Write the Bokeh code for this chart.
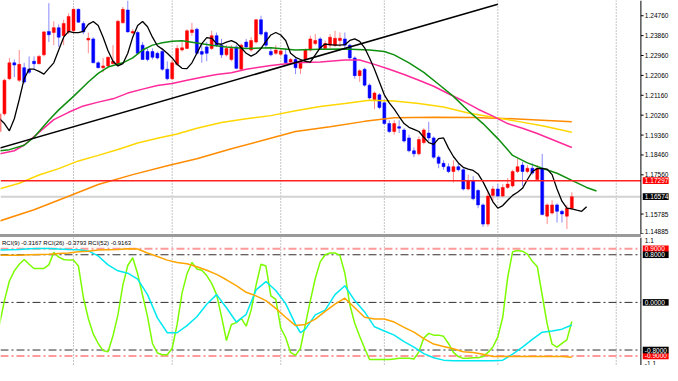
from bokeh.plotting import figure
from bokeh.layouts import column
from bokeh.models import Range1d, Span, ColumnDataSource, Div
from bokeh.core.properties import value
from bokeh.embed import file_html
from bokeh.resources import INLINE

# ---------------- data ----------------
opens = [1.1952, 1.2032, 1.2191, 1.2263, 1.2184, 1.2241, 1.2234, 1.2270, 1.2259, 1.2299,
         1.2405, 1.2400, 1.2422, 1.2386, 1.2403, 1.2408, 1.2505, 1.2441, 1.2366, 1.2371,
         1.2263, 1.2241, 1.2249, 1.2259, 1.2256, 1.2444, 1.2502, 1.2398, 1.2400, 1.2343,
         1.2314, 1.2314, 1.2306, 1.2314, 1.2234, 1.2191, 1.2256, 1.2321, 1.2328, 1.2400,
         1.2415, 1.2314, 1.2335, 1.2328, 1.2386, 1.2343, 1.2299, 1.2278, 1.2335, 1.2234,
         1.2357, 1.2321, 1.2357, 1.2458, 1.2400, 1.2314, 1.2306, 1.2302, 1.2299, 1.2267,
         1.2278, 1.2238, 1.2278, 1.2321, 1.2350, 1.2371, 1.2328, 1.2343, 1.2343, 1.2364,
         1.2371, 1.2343, 1.2285, 1.2205, 1.2234, 1.2162, 1.2097, 1.2118, 1.2082, 1.1988,
         1.1952, 1.1974, 1.1959, 1.1923, 1.1865, 1.1851, 1.1902, 1.1945, 1.1923, 1.1836,
         1.1808, 1.1793, 1.1771, 1.1793, 1.1779, 1.1692, 1.1728, 1.1685, 1.1620, 1.1533,
         1.1663, 1.1692, 1.1660, 1.1699, 1.1706, 1.1771, 1.1800, 1.1771, 1.1786, 1.1735,
         1.1786, 1.1569, 1.1583, 1.1620, 1.1591, 1.1569, 1.1605]
highs = [1.2039, 1.2191, 1.2285, 1.2278, 1.2321, 1.2263, 1.2292, 1.2292, 1.2299, 1.2408,
         1.2533, 1.2451, 1.2437, 1.2458, 1.2487, 1.2509, 1.2509, 1.2451, 1.2400, 1.2379,
         1.2270, 1.2285, 1.2292, 1.2343, 1.2458, 1.2516, 1.2545, 1.2415, 1.2408, 1.2357,
         1.2328, 1.2328, 1.2314, 1.2328, 1.2270, 1.2278, 1.2343, 1.2357, 1.2415, 1.2444,
         1.2422, 1.2343, 1.2357, 1.2408, 1.2400, 1.2371, 1.2343, 1.2343, 1.2343, 1.2350,
         1.2371, 1.2379, 1.2461, 1.2476, 1.2408, 1.2328, 1.2343, 1.2328, 1.2328, 1.2285,
         1.2288, 1.2278, 1.2328, 1.2386, 1.2393, 1.2379, 1.2364, 1.2393, 1.2408, 1.2400,
         1.2400, 1.2350, 1.2292, 1.2234, 1.2241, 1.2169, 1.2133, 1.2126, 1.2097, 1.2003,
         1.2003, 1.2003, 1.1967, 1.1938, 1.1880, 1.1930, 1.1967, 1.1996, 1.1930, 1.1844,
         1.1822, 1.1808, 1.1822, 1.1808, 1.1786, 1.1757, 1.1750, 1.1692, 1.1627, 1.1677,
         1.1706, 1.1714, 1.1714, 1.1742, 1.1779, 1.1829, 1.1815, 1.1800, 1.1808, 1.1800,
         1.1851, 1.1627, 1.1641, 1.1627, 1.1598, 1.1620, 1.1677]
lows = [1.1945, 1.2024, 1.2184, 1.2198, 1.2176, 1.2169, 1.2212, 1.2234, 1.2256, 1.2292,
        1.2357, 1.2343, 1.2335, 1.2343, 1.2393, 1.2400, 1.2444, 1.2393, 1.2306, 1.2263,
        1.2238, 1.2220, 1.2241, 1.2256, 1.2249, 1.2441, 1.2400, 1.2393, 1.2299, 1.2278,
        1.2270, 1.2278, 1.2278, 1.2227, 1.2184, 1.2186, 1.2249, 1.2314, 1.2325, 1.2386,
        1.2299, 1.2263, 1.2270, 1.2321, 1.2335, 1.2285, 1.2292, 1.2270, 1.2234, 1.2230,
        1.2328, 1.2314, 1.2350, 1.2386, 1.2328, 1.2292, 1.2299, 1.2292, 1.2259, 1.2256,
        1.2212, 1.2212, 1.2270, 1.2314, 1.2343, 1.2321, 1.2321, 1.2328, 1.2335, 1.2335,
        1.2328, 1.2278, 1.2191, 1.2176, 1.2155, 1.2097, 1.2053, 1.2053, 1.1981, 1.1945,
        1.1938, 1.1945, 1.1902, 1.1858, 1.1836, 1.1844, 1.1894, 1.1909, 1.1829, 1.1786,
        1.1779, 1.1764, 1.1721, 1.1771, 1.1685, 1.1685, 1.1641, 1.1605, 1.1521, 1.1521,
        1.1634, 1.1656, 1.1656, 1.1692, 1.1699, 1.1764, 1.1706, 1.1764, 1.1757, 1.1728,
        1.1573, 1.1533, 1.1576, 1.1540, 1.1540, 1.1511, 1.1598]
closes = [1.2032, 1.2184, 1.2263, 1.2253, 1.2256, 1.2176, 1.2220, 1.2259, 1.2292, 1.2403,
          1.2390, 1.2422, 1.2379, 1.2441, 1.2473, 1.2505, 1.2447, 1.2403, 1.2374, 1.2263,
          1.2241, 1.2249, 1.2288, 1.2270, 1.2451, 1.2505, 1.2403, 1.2405, 1.2306, 1.2278,
          1.2278, 1.2288, 1.2285, 1.2234, 1.2191, 1.2263, 1.2328, 1.2331, 1.2408, 1.2412,
          1.2306, 1.2302, 1.2306, 1.2386, 1.2343, 1.2299, 1.2328, 1.2328, 1.2238, 1.2343,
          1.2335, 1.2364, 1.2458, 1.2393, 1.2343, 1.2299, 1.2321, 1.2317, 1.2263, 1.2278,
          1.2241, 1.2270, 1.2321, 1.2371, 1.2364, 1.2328, 1.2350, 1.2379, 1.2374, 1.2374,
          1.2343, 1.2285, 1.2205, 1.2227, 1.2162, 1.2104, 1.2126, 1.2061, 1.1988, 1.1952,
          1.1988, 1.1967, 1.1909, 1.1865, 1.1851, 1.1916, 1.1959, 1.1923, 1.1836, 1.1808,
          1.1793, 1.1771, 1.1793, 1.1779, 1.1692, 1.1728, 1.1648, 1.1620, 1.1533, 1.1660,
          1.1692, 1.1660, 1.1699, 1.1714, 1.1771, 1.1793, 1.1771, 1.1786, 1.1764, 1.1786,
          1.1576, 1.1620, 1.1620, 1.1591, 1.1579, 1.1605, 1.1657]

ma_black = [1.2010, 1.1988, 1.1955, 1.2010, 1.2097, 1.2191, 1.2234, 1.2234, 1.2224, 1.2212,
            1.2238, 1.2263, 1.2321, 1.2379, 1.2405, 1.2400, 1.2400, 1.2405, 1.2437, 1.2450,
            1.2432, 1.2379, 1.2318, 1.2270, 1.2249, 1.2259, 1.2306, 1.2379, 1.2432, 1.2450,
            1.2426, 1.2379, 1.2340, 1.2325, 1.2306, 1.2285, 1.2256, 1.2238, 1.2237, 1.2263,
            1.2306, 1.2350, 1.2377, 1.2374, 1.2350, 1.2347, 1.2357, 1.2363, 1.2353, 1.2331,
            1.2306, 1.2293, 1.2305, 1.2328, 1.2360, 1.2389, 1.2400, 1.2389, 1.2364, 1.2306,
            1.2288, 1.2278, 1.2270, 1.2266, 1.2299, 1.2331, 1.2348, 1.2345, 1.2343, 1.2343,
            1.2345, 1.2364, 1.2371, 1.2360, 1.2331, 1.2285, 1.2234, 1.2176, 1.2118, 1.2082,
            1.2053, 1.2020, 1.1988, 1.1971, 1.1962, 1.1952, 1.1926, 1.1902, 1.1894, 1.1920,
            1.1923, 1.1877, 1.1839, 1.1810, 1.1790, 1.1782, 1.1776, 1.1760, 1.1724, 1.1680,
            1.1634, 1.1605, 1.1617, 1.1641, 1.1663, 1.1677, 1.1695, 1.1735, 1.1771, 1.1784,
            1.1784, 1.1782, 1.1757, 1.1692, 1.1637, 1.1605, 1.1602, 1.1596, 1.1591, 1.1612]

ma_green_x = [0, 2, 5, 7, 10, 12, 15, 18, 20, 22, 25, 27, 29, 31, 33, 35, 37, 40, 43, 46,
              50, 55, 60, 65, 70, 75, 78, 80, 83, 86, 89, 92, 95, 98, 101, 104, 107, 110,
              113, 116, 119, 121]
ma_green = [1.1865, 1.1870, 1.1890, 1.1926, 1.2003, 1.2050, 1.2111, 1.2176, 1.2215, 1.2244,
            1.2263, 1.2285, 1.2321, 1.2343, 1.2354, 1.2361, 1.2363, 1.2353, 1.2343, 1.2335,
            1.2328, 1.2331, 1.2321, 1.2324, 1.2325, 1.2321, 1.2314, 1.2299, 1.2263, 1.2220,
            1.2166, 1.2111, 1.2046, 1.1988, 1.1920, 1.1844, 1.1810, 1.1786, 1.1763, 1.1731,
            1.1699, 1.1683]

ma_pink_x = [0, 3, 5, 8, 11, 14, 17, 20, 23, 26, 29, 32, 35, 38, 41, 44, 47, 50, 55, 60,
             65, 70, 73, 76, 79, 82, 85, 88, 91, 94, 97, 100, 103, 106, 109, 112, 116]
ma_pink = [1.1851, 1.1865, 1.1891, 1.1948, 1.2006, 1.2039, 1.2068, 1.2085, 1.2100, 1.2126,
           1.2144, 1.2160, 1.2169, 1.2184, 1.2198, 1.2210, 1.2218, 1.2234, 1.2251, 1.2263,
           1.2267, 1.2276, 1.2276, 1.2256, 1.2234, 1.2210, 1.2184, 1.2157, 1.2123, 1.2090,
           1.2053, 1.2022, 1.1988, 1.1967, 1.1943, 1.1916, 1.1880]

ma_yellow_x = [0, 4, 8, 12, 16, 20, 24, 28, 32, 36, 40, 45, 50, 55, 60, 65, 70, 75, 80, 85,
               90, 95, 100, 105, 110, 116]
ma_yellow = [1.1692, 1.1718, 1.1755, 1.1784, 1.1819, 1.1844, 1.1871, 1.1900, 1.1922, 1.1941,
             1.1967, 1.1993, 1.2010, 1.2024, 1.2046, 1.2065, 1.2079, 1.2094, 1.2090, 1.2079,
             1.2063, 1.2036, 1.2017, 1.1998, 1.1978, 1.1949]

ma_orange_x = [0, 7, 14, 20, 27, 34, 40, 47, 54, 60, 67, 74, 80, 88, 96, 104, 110, 116]
ma_orange = [1.1547, 1.1598, 1.1659, 1.1712, 1.1757, 1.1797, 1.1829, 1.1874, 1.1916, 1.1952,
             1.1974, 1.1998, 1.2014, 1.2017, 1.2016, 1.2010, 1.2003, 1.1996]

trend_x = [0, 101]
trend_y = [1.1877, 1.2528]

month_starts = [15, 35, 57, 78, 101, 125]
level_price = 1.17297
last_price = 1.16574
price_ticks = [1.14885, 1.15785, 1.17560, 1.18460, 1.19360, 1.20260, 1.21160,
               1.22060, 1.22960, 1.23860, 1.24760]

rci9 = [-0.37, 0.03, 0.36, 0.53, 0.64, 0.72, 0.64, 0.57, 0.57, 0.57,
        0.63, 0.84, 0.76, 0.72, 0.71, 0.71, 0.61, 0.08, -0.27, -0.53,
        -0.69, -0.81, -0.83, -0.56, -0.21, 0.29, 0.62, 0.75, 0.48, 0.12,
        -0.24, -0.69, -0.85, -0.88, -0.88, -0.77, -0.37, 0.16, 0.48, 0.67,
        0.56, 0.54, 0.45, 0.32, 0.13, -0.24, -0.64, -0.37, -0.34, -0.27,
        -0.40, -0.13, 0.29, 0.64, 0.61, 0.11, 0.05, -0.43, -0.59, -0.84,
        -0.89, -0.77, -0.37, 0.03, 0.40, 0.68, 0.80, 0.83, 0.83, 0.79,
        0.49, -0.04, -0.35, -0.57, -0.77, -0.96, -0.96, -0.96, -0.96, -0.96,
        -0.95, -0.94, -0.94, -0.94, -0.95, -0.83, -0.60, -0.52, -0.55, -0.55,
        -0.57, -0.69, -0.84, -0.91, -0.94, -0.94, -0.93, -0.93, -0.91, -0.84,
        -0.75, -0.58, -0.25, 0.42, 0.85, 0.87, 0.86, 0.81, 0.69, 0.60,
        0.12, -0.36, -0.70, -0.75, -0.69, -0.63, -0.32]

rci26_x = [0, 2, 4, 6, 8, 10, 12, 14, 16, 18, 20, 22, 24, 26, 28, 30, 32, 34, 36, 38,
           40, 42, 44, 46, 48, 50, 52, 54, 56, 58, 60, 61, 62, 64, 66, 68, 70, 72, 74, 76,
           78, 80, 82, 84, 86, 88, 90, 92, 94, 96, 98, 100, 102, 104, 106, 108, 110, 112,
           114, 116]
rci26 = [0.88, 0.885, 0.89, 0.90, 0.907, 0.907, 0.896, 0.89, 0.885, 0.864,
         0.78, 0.63, 0.53, 0.49, 0.39, 0.13, -0.26, -0.51, -0.51, -0.39,
         -0.24, -0.03, 0.13, -0.09, -0.33, -0.20, 0.21, 0.35, 0.20, -0.02,
         -0.37, -0.51, -0.45, -0.21, -0.13, 0.13, 0.28, 0.03, -0.16, -0.41,
         -0.48, -0.55, -0.66, -0.75, -0.86, -0.93, -0.97, -0.98, -0.98, -0.98,
         -0.98, -0.98, -0.97, -0.87, -0.75, -0.62, -0.50, -0.48, -0.45, -0.38]

rci52_x = list(range(0, 117, 2))
rci52 = [0.79, 0.79, 0.79, 0.80, 0.805, 0.81, 0.82, 0.83, 0.85, 0.86,
         0.88, 0.885, 0.89, 0.90, 0.896, 0.83, 0.77, 0.71, 0.67, 0.65,
         0.60, 0.54, 0.47, 0.38, 0.28, 0.17, 0.11, 0.03, -0.10, -0.25,
         -0.39, -0.37, -0.28, -0.15, -0.03, 0.07, -0.09, -0.25, -0.28, -0.28,
         -0.33, -0.42, -0.50, -0.61, -0.70, -0.74, -0.78, -0.83, -0.84, -0.87,
         -0.91, -0.91, -0.91, -0.91, -0.91, -0.91, -0.91, -0.91, -0.92]

rci_outer_levels = [0.9, -0.9]
rci_inner_levels = [0.8, 0.0, -0.8]
rci_scale_labels = ["1.1", "-1.1"]
rci_title = "RCI(9) -0.3167  RCI(26) -0.3793  RCI(52) -0.9163"

# ---------------- layout / styling constants ----------------
FONT = value("Liberation Sans")
FS = "6.5px"
FS_TITLE = "6px"
W = 670            # whole figure width (frame covers the price-scale column too)
BORDER_X = 130     # bar position of the chart's right border
X_END = 136.0      # right end of the scale column (in bar units)
TICK_X1 = 130.55
LABEL_X = 130.5
BOX_X = 133.0
BOX_W = 5.25
x_range = Range1d(0.2, X_END)


def scale_column(fig, border_top, border_bottom):
    # right-hand price scale border, as in the terminal window
    fig.line([BORDER_X, BORDER_X], [border_bottom, border_top], line_color="black",
             line_width=1)


def plain_labels(fig, ys, texts, baseline="middle"):
    fig.text(x=[LABEL_X] * len(ys), y=ys, text=texts, x_offset=1.5,
             text_align="left", text_baseline=baseline, text_font=FONT,
             text_font_size=FS, text_color="black")


def box_labels(fig, ys, texts, bg):
    fig.rect(x=[BOX_X] * len(ys), y=ys, width=BOX_W, height=6.6, height_units="screen",
             fill_color=bg, line_color=None)
    fig.text(x=[LABEL_X] * len(ys), y=ys, text=texts, x_offset=1.5,
             text_align="left", text_baseline="middle", text_font=FONT,
             text_font_size=FS, text_color="white")


def hline(fig, y, **kw):
    fig.line([x_range.start, BORDER_X], [y, y], **kw)


# ---------------- main price panel ----------------
y_main = Range1d(1.1486, 1.2545)
main = figure(width=W, height=234, x_range=x_range, y_range=y_main,
              x_axis_location=None, y_axis_location=None, output_backend="svg",
              toolbar_location=None, min_border=0, outline_line_color=None)
main.grid.visible = False

for m in month_starts:
    main.add_layout(Span(location=m, dimension="height", line_color="#8a8a8a",
                         line_dash="1 2", line_width=1, level="underlay"))
hline(main, last_price, line_color="#d2d2d2", line_width=2)

bars = list(range(len(closes)))
up = [i for i in bars if closes[i] >= opens[i]]
dn = [i for i in bars if closes[i] < opens[i]]


def candle_source(idx):
    return ColumnDataSource(dict(
        x=[bars[i] for i in idx],
        h=[highs[i] for i in idx],
        l=[lows[i] for i in idx],
        top=[max(opens[i], closes[i]) for i in idx],
        bot=[min(opens[i], closes[i]) for i in idx]))


src_up = candle_source(up)
src_dn = candle_source(dn)
main.segment(x0="x", y0="l", x1="x", y1="h", source=src_up, line_color="#ff8a8a", line_width=1)
main.segment(x0="x", y0="l", x1="x", y1="h", source=src_dn, line_color="#8a8aff", line_width=1)
main.vbar(x="x", top="top", bottom="bot", width=0.6, source=src_up,
          fill_color="#ff0000", line_color="#ff0000", line_width=0.5)
main.vbar(x="x", top="top", bottom="bot", width=0.6, source=src_dn,
          fill_color="#0000ff", line_color="#0000ff", line_width=0.5)

main.line(ma_orange_x, ma_orange, line_color="#ff8c00", line_width=1.5)
main.line(ma_yellow_x, ma_yellow, line_color="#ffd700", line_width=1.5)
main.line(ma_pink_x, ma_pink, line_color="#ff2a9a", line_width=1.5)
main.line(ma_green_x, ma_green, line_color="#0f8f0f", line_width=1.5)
main.line(list(range(len(ma_black))), ma_black, line_color="black", line_width=1.3)
main.line(trend_x, trend_y, line_color="black", line_width=1.5)
hline(main, level_price, line_color="#ff2020", line_width=1.5)

scale_column(main, y_main.end, y_main.start)
main.segment(x0=[BORDER_X] * len(price_ticks), y0=price_ticks,
             x1=[TICK_X1] * len(price_ticks), y1=price_ticks, line_color="black")
plain_labels(main, price_ticks[1:], [f"{t:.5f}" for t in price_ticks[1:]])
plain_labels(main, price_ticks[:1], [f"{t:.5f}" for t in price_ticks[:1]], baseline="bottom")
box_labels(main, [level_price], [f"{level_price:.5f}"], "#ff0000")
box_labels(main, [last_price], [f"{last_price:.5f}"], "black")

# ---------------- separator between the windows ----------------
sep = Div(text="", width=641, height=3, margin=0,
          styles={"background-color": "#9a9a9a"})

# ---------------- RCI panel ----------------
y_ind = Range1d(-1.06, 1.09)
ind = figure(width=W, height=128, x_range=x_range, y_range=y_ind,
             x_axis_location=None, y_axis_location=None, output_backend="svg",
             toolbar_location=None, min_border=0, outline_line_color=None)
ind.grid.visible = False

for m in month_starts:
    ind.add_layout(Span(location=m, dimension="height", line_color="#8a8a8a",
                        line_dash="1 2", line_width=1, level="underlay"))
for lv in rci_outer_levels:
    hline(ind, lv, line_color="#ff9a9a", line_dash="8 3 2 3", line_width=2)
for lv in rci_inner_levels:
    hline(ind, lv, line_color="#303030", line_dash="8 3 2 3", line_width=1)

ind.line(list(range(len(rci9))), rci9, line_color="#7cfc00", line_width=1.5)
ind.line(rci26_x, rci26, line_color="#00e8f0", line_width=1.5)
ind.line(rci52_x, rci52, line_color="#ffa500", line_width=1.5)

ind.text(x=[x_range.start], y=[1.0], text=[rci_title], x_offset=1.5,
         text_align="left", text_baseline="middle", text_font=FONT,
         text_font_size=FS_TITLE, text_color="black")

scale_column(ind, y_ind.end, y_ind.start)
plain_labels(ind, [y_ind.end], rci_scale_labels[:1], baseline="top")
plain_labels(ind, [y_ind.start], rci_scale_labels[1:], baseline="bottom")
box_labels(ind, rci_outer_levels, [f"{lv:.4f}" for lv in rci_outer_levels], "#ff0000")
box_labels(ind, rci_inner_levels, [f"{lv:.4f}" for lv in rci_inner_levels], "black")

layout = column(main, sep, ind, spacing=0)
open("out.html", "w").write(file_html(layout, INLINE))
